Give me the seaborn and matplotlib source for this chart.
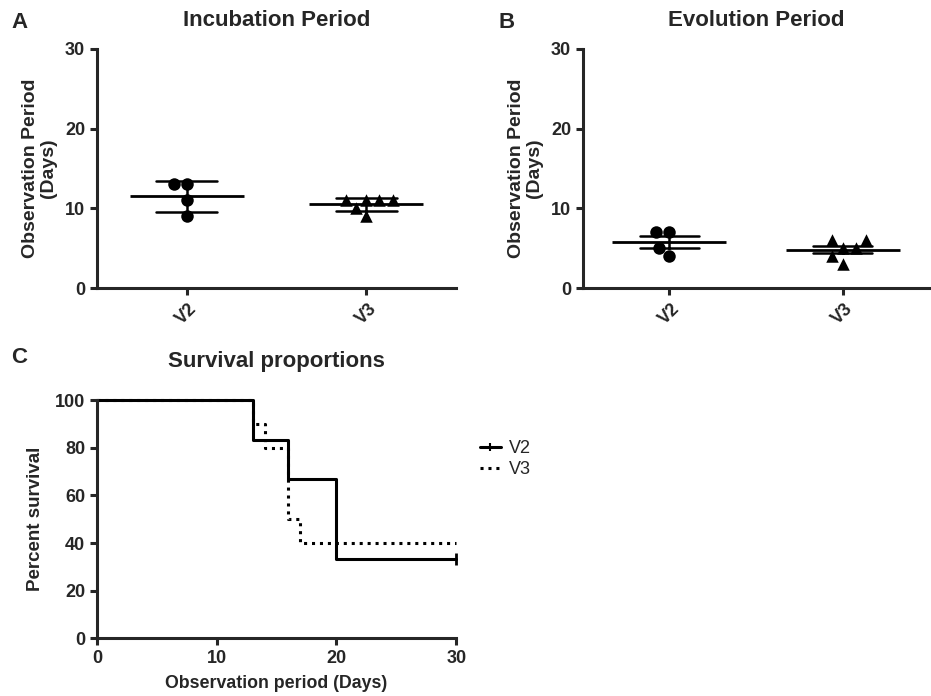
import numpy as np
import pandas as pd
import matplotlib
matplotlib.use("Agg")
import matplotlib.pyplot as plt
from matplotlib.lines import Line2D
import seaborn as sns

# --- data ---
groups = ["V2", "V3"]

incubation_v2 = [13, 13, 11, 9]
incubation_v3 = [11, 11, 11, 11, 10, 9]

evolution_v2 = [7, 7, 5, 4]
evolution_v3 = [6, 5, 3, 4, 5, 6]

# Kaplan-Meier steps (days, percent surviving)
surv_time_v2 = [0, 13, 16, 20, 30]
surv_pct_v2 = [100, 83.3, 66.7, 33.3, 33.3]
surv_time_v3 = [0, 13, 14, 16, 17, 30]
surv_pct_v3 = [100, 90, 80, 50, 40, 40]
censor_time_v2 = [30]
censor_pct_v2 = [33.3]

sns.set_theme(style="ticks")
plt.rcParams["font.family"] = ["Liberation Sans", "DejaVu Sans"]
plt.rcParams["axes.linewidth"] = 2.2
plt.rcParams["xtick.major.width"] = 2.2
plt.rcParams["ytick.major.width"] = 2.2
plt.rcParams["xtick.major.size"] = 5
plt.rcParams["ytick.major.size"] = 5

TITLE_FS = 16
LABEL_FS = 14
TICK_FS = 13

fig = plt.figure(figsize=(9.31, 6.96), dpi=100)
ax_a = fig.add_axes([0.104, 0.586, 0.386, 0.344])
ax_b = fig.add_axes([0.626, 0.586, 0.372, 0.344])
ax_c = fig.add_axes([0.104, 0.083, 0.386, 0.342])


def long_frame(v2, v3):
    return pd.DataFrame({
        "group": ["V2"] * len(v2) + ["V3"] * len(v3),
        "value": list(v2) + list(v3),
    })


def scatter_panel(ax, df, err, title):
    # individual animals
    sns.swarmplot(data=df[df.group == "V2"], x="group", y="value", order=groups,
                  marker="o", color="black", size=9, ax=ax)
    sns.swarmplot(data=df[df.group == "V3"], x="group", y="value", order=groups,
                  marker="^", color="black", size=9, ax=ax)
    # mean line + error bars
    sns.pointplot(data=df, x="group", y="value", order=groups, errorbar=err,
                  capsize=0.34, color="black", marker="_", markersize=82,
                  markeredgewidth=2, linestyle="none",
                  err_kws={"linewidth": 1.8}, ax=ax)
    ax.set_ylim(0, 30)
    ax.set_yticks([0, 10, 20, 30])
    ax.set_xlim(-0.5, 1.5)
    ax.set_xlabel("")
    ax.set_ylabel("Observation Period\n(Days)", fontsize=LABEL_FS, fontweight="bold",
                  labelpad=6, linespacing=1.05)
    ax.set_title(title, fontsize=TITLE_FS, fontweight="bold", pad=16)
    for lab in ax.get_xticklabels():
        lab.set_rotation(45)
        lab.set_fontweight("bold")
        lab.set_fontsize(TICK_FS)
    for lab in ax.get_yticklabels():
        lab.set_fontweight("bold")
        lab.set_fontsize(TICK_FS)
    sns.despine(ax=ax)


scatter_panel(ax_a, long_frame(incubation_v2, incubation_v3), "sd", "Incubation Period")
scatter_panel(ax_b, long_frame(evolution_v2, evolution_v3), "se", "Evolution Period")

# --- survival panel ---
surv = pd.DataFrame({
    "time": surv_time_v2 + surv_time_v3,
    "pct": surv_pct_v2 + surv_pct_v3,
    "group": ["V2"] * len(surv_time_v2) + ["V3"] * len(surv_time_v3),
})
sns.lineplot(data=surv, x="time", y="pct", hue="group", style="group",
             palette={"V2": "black", "V3": "black"},
             dashes={"V2": "", "V3": (1, 1.6)}, drawstyle="steps-post",
             linewidth=2.2, ax=ax_c, clip_on=False, legend=False)
ax_c.plot(censor_time_v2, censor_pct_v2, marker="|", markersize=8, mew=2,
          color="black", linestyle="none", clip_on=False)
ax_c.set_xlim(0, 30)
ax_c.set_ylim(0, 100)
ax_c.set_xticks([0, 10, 20, 30])
ax_c.set_yticks([0, 20, 40, 60, 80, 100])
ax_c.set_xlabel("Observation period (Days)", fontsize=12.8, fontweight="bold", labelpad=6)
ax_c.set_ylabel("Percent survival", fontsize=13.5, fontweight="bold", labelpad=8)
ax_c.set_title("Survival proportions", fontsize=TITLE_FS, fontweight="bold", pad=24)
for lab in ax_c.get_xticklabels() + ax_c.get_yticklabels():
    lab.set_fontweight("bold")
    lab.set_fontsize(TICK_FS)
sns.despine(ax=ax_c)

handles = [
    Line2D([], [], color="black", linewidth=2.2, marker="|", markersize=6, mew=1.5),
    Line2D([], [], color="black", linewidth=2.2, linestyle=(0, (1, 1.6))),
]
ax_c.legend(handles, groups, loc="upper left", bbox_to_anchor=(1.02, 0.90),
            frameon=False, fontsize=13, handlelength=1.2, handletextpad=0.4,
            labelspacing=0.2)

# panel letters
fig.text(0.012, 0.968, "A", fontsize=16, fontweight="bold", va="center")
fig.text(0.535, 0.968, "B", fontsize=16, fontweight="bold", va="center")
fig.text(0.012, 0.487, "C", fontsize=16, fontweight="bold", va="center")

fig.savefig("out.png", dpi=100)
